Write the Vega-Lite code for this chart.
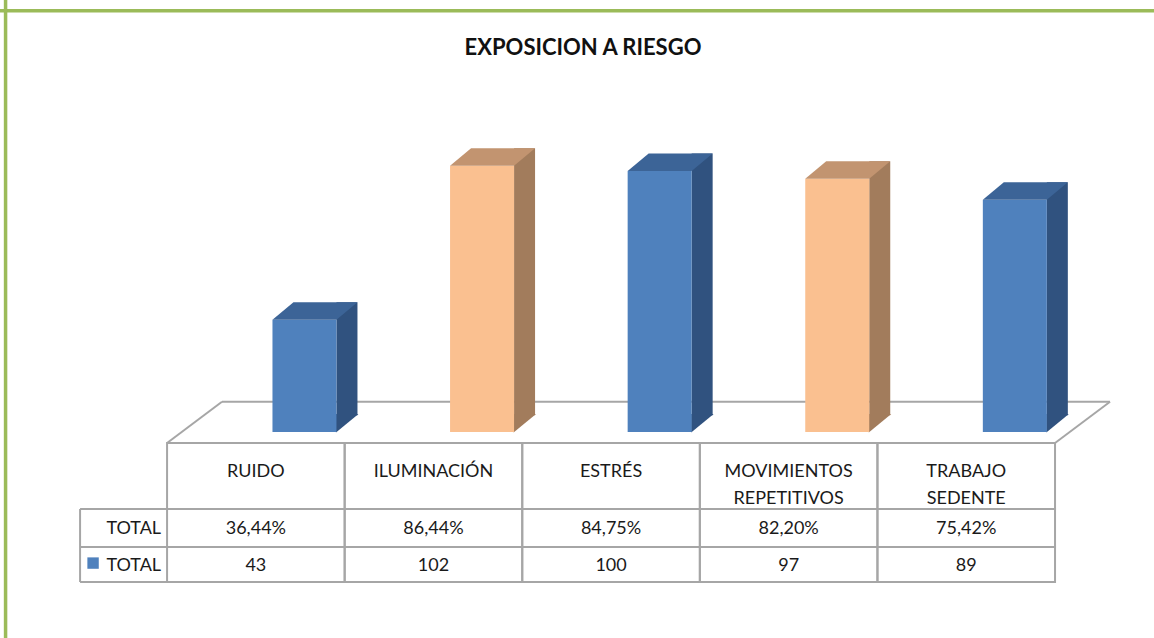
{
  "$schema": "https://vega.github.io/schema/vega-lite/v6.json",
  "width": 1154,
  "height": 638,
  "autosize": "none",
  "padding": 0,
  "background": "white",
  "config": {
    "view": {"stroke": null},
    "axis": {"disable": true},
    "locale": {"number": {"decimal": ",", "thousands": ".", "grouping": [3], "currency": ["", " €"]}},
    "text": {"font": "Lato", "fontSize": 18, "color": "#1a1a1a"}
  },
  "title": {"text": "EXPOSICION A RIESGO", "font": "Lato", "fontSize": 22, "fontWeight": "bold", "color": "#111111", "offset": -62, "frame": "group", "anchor": "middle", "dx": 6},
  "data": {"values": [
    {"riesgo": "RUIDO", "pct": 0.3644, "total": 43},
    {"riesgo": "ILUMINACIÓN", "pct": 0.8644, "total": 102},
    {"riesgo": "ESTRÉS", "pct": 0.8475, "total": 100},
    {"riesgo": "MOVIMIENTOS REPETITIVOS", "pct": 0.8220, "total": 97},
    {"riesgo": "TRABAJO SEDENTE", "pct": 0.7542, "total": 89}
  ]},
  "resolve": {"scale": {"color": "independent"}},
  "layer": [
    {
      "data": {"values": [{}]},
      "mark": {"type": "rule", "color": "#9BBB59", "strokeWidth": 3.5},
      "encoding": {"y": {"datum": 161.4, "type": "quantitative", "scale": {"domain": [-78.9, 165.5], "nice": false, "zero": false}}}
    },
    {
      "data": {"values": [{}]},
      "mark": {"type": "rule", "color": "#9BBB59", "strokeWidth": 3.5, "xOffset": -161.5},
      "encoding": {"x": {"datum": "RUIDO", "type": "nominal", "bandPosition": 0, "scale": {"domain": ["RUIDO", "ILUMINACIÓN", "ESTRÉS", "MOVIMIENTOS REPETITIVOS", "TRABAJO SEDENTE"], "paddingInner": 0, "paddingOuter": 0.749, "align": 0.628}}}
    },
    {
      "data": {"values": [{}]},
      "mark": {"type": "rule", "color": "#A6A6A6", "strokeWidth": 2, "xOffset": 54.9, "x2Offset": 55},
      "encoding": {
        "x": {"datum": "RUIDO", "type": "nominal", "bandPosition": 0},
        "x2": {"datum": "TRABAJO SEDENTE", "bandPosition": 1},
        "y": {"datum": 11.62, "type": "quantitative"}
      }
    },
    {
      "data": {"values": [{}]},
      "mark": {"type": "rule", "color": "#A6A6A6", "strokeWidth": 2, "x2Offset": 54.9},
      "encoding": {
        "x": {"datum": "RUIDO", "type": "nominal", "bandPosition": 0},
        "x2": {"datum": "RUIDO", "bandPosition": 0},
        "y": {"datum": -4.2, "type": "quantitative"},
        "y2": {"datum": 11.62}
      }
    },
    {
      "data": {"values": [{}]},
      "mark": {"type": "rule", "color": "#A6A6A6", "strokeWidth": 2, "x2Offset": 55},
      "encoding": {
        "x": {"datum": "TRABAJO SEDENTE", "type": "nominal", "bandPosition": 1},
        "x2": {"datum": "TRABAJO SEDENTE", "bandPosition": 1},
        "y": {"datum": -4.2, "type": "quantitative"},
        "y2": {"datum": 11.62}
      }
    },
    {
      "mark": {"type": "bar", "fillOpacity": 0, "stroke": "#A6A6A6", "strokeWidth": 2},
      "encoding": {
        "x": {"field": "riesgo", "type": "nominal"},
        "y": {"datum": -4.2, "type": "quantitative"},
        "y2": {"datum": -29.49}
      }
    },
    {
      "mark": {"type": "bar", "fillOpacity": 0, "stroke": "#A6A6A6", "strokeWidth": 2},
      "encoding": {
        "x": {"field": "riesgo", "type": "nominal"},
        "y": {"datum": -29.49, "type": "quantitative"},
        "y2": {"datum": -44.04}
      }
    },
    {
      "mark": {"type": "bar", "fillOpacity": 0, "stroke": "#A6A6A6", "strokeWidth": 2},
      "encoding": {
        "x": {"field": "riesgo", "type": "nominal"},
        "y": {"datum": -44.04, "type": "quantitative"},
        "y2": {"datum": -57.45}
      }
    },
    {
      "data": {"values": [{}]},
      "mark": {"type": "rule", "color": "#A6A6A6", "strokeWidth": 2, "xOffset": -87},
      "encoding": {
        "x": {"datum": "RUIDO", "type": "nominal", "bandPosition": 0},
        "x2": {"datum": "RUIDO", "bandPosition": 0},
        "y": {"datum": -29.49, "type": "quantitative"}
      }
    },
    {
      "data": {"values": [{}]},
      "mark": {"type": "rule", "color": "#A6A6A6", "strokeWidth": 2, "xOffset": -87},
      "encoding": {
        "x": {"datum": "RUIDO", "type": "nominal", "bandPosition": 0},
        "x2": {"datum": "RUIDO", "bandPosition": 0},
        "y": {"datum": -44.04, "type": "quantitative"}
      }
    },
    {
      "data": {"values": [{}]},
      "mark": {"type": "rule", "color": "#A6A6A6", "strokeWidth": 2, "xOffset": -87},
      "encoding": {
        "x": {"datum": "RUIDO", "type": "nominal", "bandPosition": 0},
        "x2": {"datum": "RUIDO", "bandPosition": 0},
        "y": {"datum": -57.45, "type": "quantitative"}
      }
    },
    {
      "data": {"values": [{}]},
      "mark": {"type": "rule", "color": "#A6A6A6", "strokeWidth": 2, "xOffset": -87},
      "encoding": {
        "x": {"datum": "RUIDO", "type": "nominal", "bandPosition": 0},
        "y": {"datum": -29.49, "type": "quantitative"},
        "y2": {"datum": -57.45}
      }
    },
    {
      "mark": {"type": "text", "baseline": "alphabetic", "lineBreak": " ", "lineHeight": 26.5},
      "encoding": {
        "x": {"field": "riesgo", "type": "nominal"},
        "y": {"datum": -17.23, "type": "quantitative"},
        "text": {"field": "riesgo"}
      }
    },
    {
      "mark": {"type": "text", "baseline": "alphabetic"},
      "encoding": {
        "x": {"field": "riesgo", "type": "nominal"},
        "y": {"datum": -39.07, "type": "quantitative"},
        "text": {"field": "pct", "type": "quantitative", "format": ".2%"}
      }
    },
    {
      "mark": {"type": "text", "baseline": "alphabetic"},
      "encoding": {
        "x": {"field": "riesgo", "type": "nominal"},
        "y": {"datum": -53.1, "type": "quantitative"},
        "text": {"field": "total", "type": "quantitative"}
      }
    },
    {
      "data": {"values": [{}]},
      "mark": {"type": "text", "baseline": "alphabetic", "align": "right", "xOffset": -6},
      "encoding": {
        "x": {"datum": "RUIDO", "type": "nominal", "bandPosition": 0},
        "y": {"datum": -39.07, "type": "quantitative"},
        "text": {"value": "TOTAL"}
      }
    },
    {
      "data": {"values": [{}]},
      "mark": {"type": "text", "baseline": "alphabetic", "align": "right", "xOffset": -6},
      "encoding": {
        "x": {"datum": "RUIDO", "type": "nominal", "bandPosition": 0},
        "y": {"datum": -53.1, "type": "quantitative"},
        "text": {"value": "TOTAL"}
      }
    },
    {
      "data": {"values": [{}]},
      "mark": {"type": "point", "shape": "square", "filled": true, "opacity": 1, "size": 130, "color": "#4F81BD", "xOffset": -74},
      "encoding": {
        "x": {"datum": "RUIDO", "type": "nominal", "bandPosition": 0},
        "y": {"datum": -50.2, "type": "quantitative"}
      }
    },
    {
      "mark": {"type": "bar", "width": 21, "xOffset": 91.1, "yOffset": -17.5, "y2Offset": -16.8},
      "encoding": {
        "x": {"field": "riesgo", "type": "nominal"},
        "y": {"field": "total", "type": "quantitative"},
        "y2": {"datum": 0},
        "color": {"field": "riesgo", "type": "nominal", "legend": null, "scale": {"domain": ["RUIDO", "ILUMINACIÓN", "ESTRÉS", "MOVIMIENTOS REPETITIVOS", "TRABAJO SEDENTE"], "range": ["#30527F", "#A27C5C", "#30527F", "#A27C5C", "#30527F"]}}
      }
    },
    {
      "mark": {"type": "point", "shape": "M63.5,0.5 L63.5,-18 L86,-18 Z", "size": 4, "filled": true, "opacity": 1, "strokeWidth": 0, "xOffset": 16.6},
      "encoding": {
        "x": {"field": "riesgo", "type": "nominal"},
        "y": {"datum": 0, "type": "quantitative"},
        "color": {"field": "riesgo", "type": "nominal", "legend": null, "scale": {"domain": ["RUIDO", "ILUMINACIÓN", "ESTRÉS", "MOVIMIENTOS REPETITIVOS", "TRABAJO SEDENTE"], "range": ["#30527F", "#A27C5C", "#30527F", "#A27C5C", "#30527F"]}}
      }
    },
    {
      "mark": {"type": "bar", "width": 64, "xOffset": 48.6},
      "encoding": {
        "x": {"field": "riesgo", "type": "nominal"},
        "y": {"field": "total", "type": "quantitative"},
        "y2": {"datum": 0},
        "color": {"field": "riesgo", "type": "nominal", "legend": null, "scale": {"domain": ["RUIDO", "ILUMINACIÓN", "ESTRÉS", "MOVIMIENTOS REPETITIVOS", "TRABAJO SEDENTE"], "range": ["#4F81BD", "#FAC090", "#4F81BD", "#FAC090", "#4F81BD"]}}
      }
    },
    {
      "mark": {"type": "point", "shape": "M0,0 L64,0 L85,-17.5 L21,-17.5 Z", "size": 4, "filled": true, "opacity": 1, "strokeWidth": 0, "xOffset": 16.6},
      "encoding": {
        "x": {"field": "riesgo", "type": "nominal"},
        "y": {"field": "total", "type": "quantitative"},
        "color": {"field": "riesgo", "type": "nominal", "legend": null, "scale": {"domain": ["RUIDO", "ILUMINACIÓN", "ESTRÉS", "MOVIMIENTOS REPETITIVOS", "TRABAJO SEDENTE"], "range": ["#3C6497", "#C29470", "#3C6497", "#C29470", "#3C6497"]}}
      }
    }
  ]
}
